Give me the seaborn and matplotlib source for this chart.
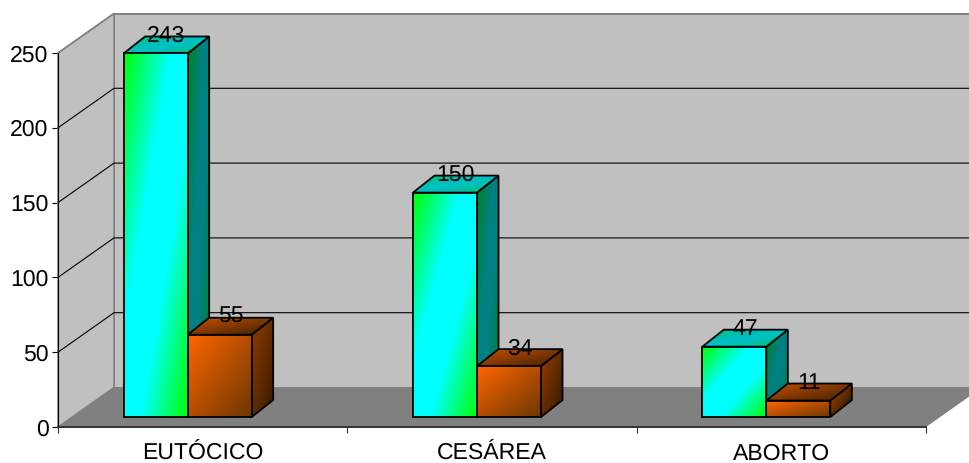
import numpy as np
import pandas as pd
import matplotlib
matplotlib.use("Agg")
import matplotlib.pyplot as plt
from matplotlib.patches import Polygon
from matplotlib.transforms import IdentityTransform
import seaborn as sns

# Deliveries by type, two series per category
categories = ["EUTÓCICO", "CESÁREA", "ABORTO"]
series_a = [243, 150, 47]
series_b = [55, 34, 11]
y_ticks = [0, 50, 100, 150, 200, 250]

W, H, DPI = 970, 463, 100
FRONT_L, FRONT_R, FRONT_TOP, FRONT_BOTTOM = 58, 926, 53, 427
WALL_DX, WALL_DY = 56, 39.5      # depth of the chart box, in pixels
BAR_SHIFT_X, BAR_SHIFT_Y = -15.0, 10
BAR_DX, BAR_DY = 21.5, 17        # depth of each column, in pixels
FONT_SIZE = 16.4

sns.set_style("white")
plt.rcParams["font.family"] = ["Liberation Sans", "DejaVu Sans"]
plt.rcParams["text.hinting"] = "no_hinting"
plt.rcParams["text.hinting_factor"] = 1

df = pd.DataFrame({
    "category": categories * 2,
    "value": series_a + series_b,
    "series": ["a"] * 3 + ["b"] * 3,
})

fig = plt.figure(figsize=(W / DPI, H / DPI), dpi=DPI, facecolor="white")
ident = IdentityTransform()


def rect(left, right, top, bottom):
    return [left / W, 1 - bottom / H, (right - left) / W, (bottom - top) / H]


ax = fig.add_axes(rect(FRONT_L, FRONT_R, FRONT_TOP, FRONT_BOTTOM))
ax.patch.set_visible(False)
ax.set_xlim(-0.5, 2.5)
ax.set_ylim(0, 250)
ax.set_xticks(range(3), categories)
ax.set_xticks([-0.5, 0.5, 1.5, 2.5], minor=True)
ax.set_yticks(y_ticks)
ax.tick_params(axis="x", which="major", length=0, pad=11.5, labelsize=FONT_SIZE, labelcolor="black")
ax.tick_params(axis="x", which="minor", length=4.5, width=0.8, color="#333333", bottom=True)
ax.tick_params(axis="y", length=4.3, width=0.8, pad=2.5, labelsize=FONT_SIZE, left=True,
               color="black", labelcolor="black")
for side in ("top", "right"):
    ax.spines[side].set_visible(False)
ax.spines["left"].set_color("black")
ax.spines["left"].set_linewidth(0.8)
ax.spines["bottom"].set_color("#333333")
ax.spines["bottom"].set_linewidth(1.4)
ax.spines["bottom"].set_zorder(6)

bar_ax = fig.add_axes(rect(FRONT_L + BAR_SHIFT_X, FRONT_R + BAR_SHIFT_X,
                           FRONT_TOP - BAR_SHIFT_Y, FRONT_BOTTOM - BAR_SHIFT_Y))
sns.barplot(data=df, x="category", y="value", hue="series", order=categories,
            width=0.4425, gap=0, legend=False, ax=bar_ax, errorbar=None)
bar_ax.set_xlim(-0.5, 2.5)
bar_ax.set_ylim(0, 250)
bar_ax.axis("off")

# Chart box: walls, floor and gridlines, placed from the value axis scale
to_px = ax.transData.transform
x0, y0 = to_px((-0.5, 0))
x1, _ = to_px((2.5, 0))
_, ytop = to_px((-0.5, 250))
box = dict(transform=ident, clip_on=False)
ax.add_patch(Polygon([(x0, y0), (x0 + WALL_DX, y0 + WALL_DY), (x1 + WALL_DX, y0 + WALL_DY), (x1, y0)],
                     fc="#808080", ec="none", zorder=0, **box))
ax.add_patch(Polygon([(x0 + WALL_DX, y0 + WALL_DY), (x0 + WALL_DX, ytop + WALL_DY),
                      (x1 + WALL_DX, ytop + WALL_DY), (x1 + WALL_DX, y0 + WALL_DY)],
                     fc="#C0C0C0", ec="#808080", lw=1.4, zorder=0.5, **box))
ax.add_patch(Polygon([(x0, y0), (x0, ytop), (x0 + WALL_DX, ytop + WALL_DY), (x0 + WALL_DX, y0 + WALL_DY)],
                     fc="#C0C0C0", ec="#808080", lw=1.1, zorder=0.6, **box))
for tick in y_ticks[1:-1]:
    _, yp = to_px((-0.5, tick))
    ax.plot([x0, x0 + WALL_DX, x1 + WALL_DX], [yp, yp + WALL_DY, yp + WALL_DY],
            color="black", lw=0.8, zorder=1, **box)
ax.plot([x0, x0 + WALL_DX], [ytop, ytop + WALL_DY], color="#808080", lw=1.1, zorder=1, **box)
ax.spines["left"].set_zorder(2)


def cyan_ramp(u, v, strength):
    near = np.clip(1 - 1.35 * u - 1.3 * v, 0, 1)
    far = np.clip(1 - 1.35 * (1 - u) - 1.3 * (1 - v), 0, 1)
    t = (near + far) * strength
    return np.stack([0 * t, 1.0 + 0 * t, 1 - t], axis=-1)


def orange_ramp(u, v, strength):
    t = ((u + v) / 2)[..., None]
    return (1 - t) * np.array([1.0, 0.40, 0.0]) + t * np.array([0.42, 0.21, 0.0])


def shade_face(corners, ramp, gain, strength, zorder):
    """Fill a four-cornered face (tl, tr, br, bl) with a colour ramp."""
    tl, tr, br, bl = (np.array(c, float) for c in corners)
    n = 60
    s = np.linspace(0, 1, n + 1)
    uu, vv = np.meshgrid(s, s)
    pts = ((1 - uu) * (1 - vv))[..., None] * tl + (uu * (1 - vv))[..., None] * tr \
        + (uu * vv)[..., None] * br + ((1 - uu) * vv)[..., None] * bl
    mid = (s[:-1] + s[1:]) / 2
    um, vm = np.meshgrid(mid, mid)
    ax.pcolormesh(pts[..., 0], pts[..., 1], np.clip(ramp(um, vm, strength) * gain, 0, 1),
                  transform=ident, shading="flat", antialiased=False,
                  clip_on=False, zorder=zorder)
    ax.add_patch(Polygon([tl, tr, br, bl], fc="none", ec="black", lw=1.3,
                         joinstyle="miter", transform=ident, clip_on=False, zorder=zorder + 0.1))


bars = list(bar_ax.patches)
series_bars = [bars[:3], bars[3:6]]
ramps = [(cyan_ramp, 1.0, 0.5, 0.75), (orange_ramp, 1.0, 0.55, 0.72)]
z = 3.0
for idx in range(len(categories)):
    for bar_set, values, (ramp, g_front, g_side, g_top) in zip(series_bars, (series_a, series_b), ramps):
        bar = bar_set[idx]
        bb = bar.get_window_extent()
        l, r, b, t = bb.x0, bb.x1, bb.y0, bb.y1
        bar.set_visible(False)
        # side, top and front faces, back to front
        shade_face([(r, t), (r + BAR_DX, t + BAR_DY), (r + BAR_DX, b + BAR_DY), (r, b)],
                   ramp, g_side, 0.7, z)
        shade_face([(l + BAR_DX, t + BAR_DY), (r + BAR_DX, t + BAR_DY), (r, t), (l, t)],
                   ramp, g_top, 0.35, z + 0.2)
        shade_face([(l, t), (r, t), (r, b), (l, b)], ramp, g_front, 1.0, z + 0.4)
        z += 1
        ax.text((l + r) / 2 + BAR_DX / 2, t + BAR_DY + 0.5, str(values[idx]), transform=ident,
                ha="center", va="center", fontsize=FONT_SIZE, color="black", zorder=40, clip_on=False)

ax.set_xlim(-0.5, 2.5)
ax.set_ylim(0, 250)
fig.savefig("out.png", dpi=DPI)
